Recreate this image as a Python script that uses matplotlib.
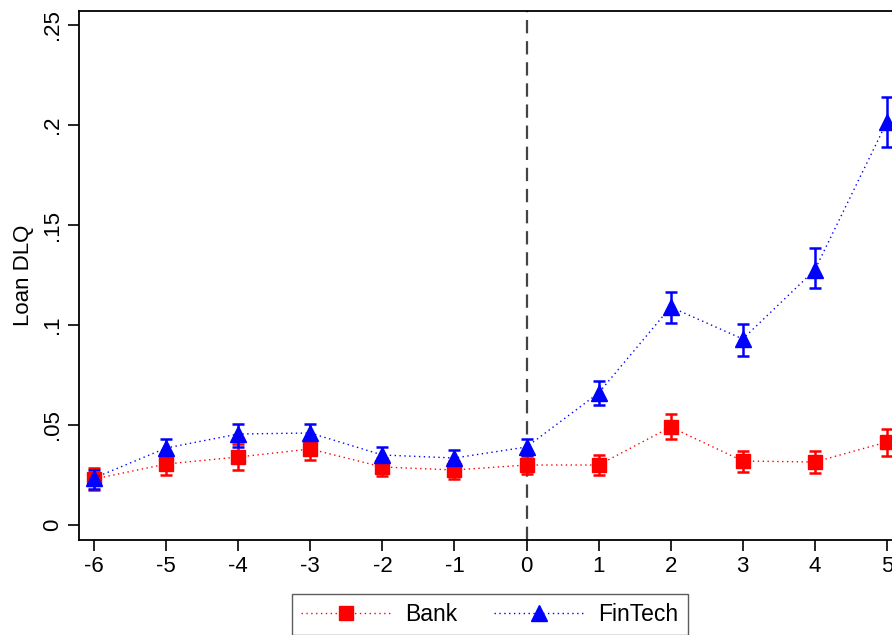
import numpy as np
import matplotlib
matplotlib.use('Agg')
import matplotlib.pyplot as plt

plt.rcParams['font.family'] = ['Liberation Sans', 'DejaVu Sans']

# event time
periods = [-6, -5, -4, -3, -2, -1, 0, 1, 2, 3, 4, 5]

# Bank: point estimate and CI bounds
bank = [0.023, 0.0305, 0.034, 0.038, 0.029, 0.0275, 0.030, 0.030, 0.049, 0.032, 0.0315, 0.0415]
bank_lo = [0.0175, 0.025, 0.0275, 0.0325, 0.0245, 0.023, 0.0255, 0.025, 0.043, 0.0265, 0.026, 0.0345]
bank_hi = [0.0285, 0.036, 0.0405, 0.0435, 0.0335, 0.032, 0.0345, 0.035, 0.0555, 0.037, 0.037, 0.048]

# FinTech: point estimate and CI bounds
fintech = [0.0235, 0.0385, 0.0455, 0.046, 0.035, 0.0335, 0.039, 0.066, 0.109, 0.093, 0.1275, 0.2015]
fintech_lo = [0.018, 0.034, 0.039, 0.0415, 0.031, 0.0295, 0.035, 0.060, 0.101, 0.0845, 0.1185, 0.189]
fintech_hi = [0.0275, 0.043, 0.0505, 0.0505, 0.039, 0.0375, 0.043, 0.072, 0.1165, 0.1005, 0.1385, 0.214]

yticks = [0, 0.05, 0.1, 0.15, 0.2, 0.25]
ytick_labels = ['0', '.05', '.1', '.15', '.2', '.25']

fig = plt.figure(figsize=(8.92, 6.35), dpi=100)
ax = fig.add_axes([79 / 892, 1 - 540 / 635, 823 / 892, 529 / 635])

ax.axvline(0, color='#444444', lw=1.6, ls=(0, (6, 3.5)), zorder=1)

def draw(y, lo, hi, color, marker, ms, label):
    y = np.array(y)
    err = [y - np.array(lo), np.array(hi) - y]
    ax.errorbar(periods, y, yerr=err, fmt='none', ecolor=color, elinewidth=1.8,
                capsize=4.5, capthick=1.8, zorder=3)
    ax.plot(periods, y, color=color, ls=(0, (1, 2.5)), lw=1.0, marker=marker,
            ms=ms, mec=color, mfc=color, zorder=4, label=label)

draw(bank, bank_lo, bank_hi, '#ff0000', 's', 9.5, 'Bank')
draw(fintech, fintech_lo, fintech_hi, '#0000ff', '^', 11, 'FinTech')

ax.set_xlim(-6.21, 5.21)
ax.set_ylim(-0.0075, 0.257)
ax.set_xticks(periods)
ax.set_xticklabels([str(p) for p in periods])
ax.set_yticks(yticks)
ax.set_yticklabels(ytick_labels, rotation=90, va='center')
ax.tick_params(axis='both', length=8, width=1.2, labelsize=16, direction='out')
ax.set_ylabel('Loan DLQ', fontsize=16, labelpad=6)
for s in ax.spines.values():
    s.set_linewidth(1.3)

leg = fig.legend(loc='upper center', bbox_to_anchor=(490 / 892, 1 - 594 / 635), ncol=2,
                 fontsize=16.5, frameon=True, fancybox=False, edgecolor='#333333',
                 handlelength=3.9, handletextpad=0.65, columnspacing=1.6,
                 borderpad=0.4, borderaxespad=0)
leg.get_frame().set_linewidth(1.0)

fig.savefig('out.png', dpi=100)
